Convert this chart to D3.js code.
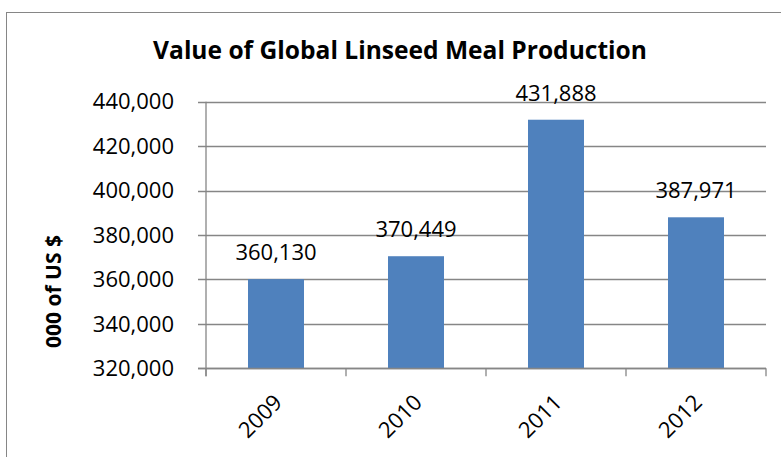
<!DOCTYPE html>
<html><head><meta charset="utf-8">
<script src="https://cdn.jsdelivr.net/npm/d3@7"></script>
<style>body{margin:0;background:#fff}svg{display:block}text{font-family:"Open Sans",sans-serif;fill:#000}</style>
</head><body>
<script>
const categories = ["2009","2010","2011","2012"];
const values = [360130, 370449, 431888, 387971];
const yTicks = [320000,340000,360000,380000,400000,420000,440000];
const title = "Value of Global Linseed Meal Production";
const yTitle = "000 of US $";

const W=781,H=457;
const svg=d3.select("body").append("svg").attr("width",W).attr("height",H);
// outer chart border
svg.append("rect").attr("x",6.5).attr("y",12.5).attr("width",W+10).attr("height",H+10)
  .attr("fill","none").attr("stroke","#868686").attr("stroke-width",1);

const L=206,R=766,T=101.7,B=368.3;
const x=d3.scaleBand().domain(categories).range([L,R]).paddingInner(0.6).paddingOuter(0.3);
const y=d3.scaleLinear().domain([320000,440000]).range([B,T]);
const grey="#868686";

// gridlines
svg.append("g").selectAll("line").data(yTicks).join("line")
  .attr("x1",L-8).attr("x2",R).attr("y1",d=>Math.round(y(d))+0.5).attr("y2",d=>Math.round(y(d))+0.5)
  .attr("stroke",grey).attr("stroke-width",1.3);

// bars
svg.append("g").selectAll("rect").data(values).join("rect")
  .attr("x",(d,i)=>x(categories[i])).attr("width",x.bandwidth())
  .attr("y",d=>y(d)).attr("height",d=>B-y(d)).attr("fill","#4F81BD");

// axes lines
svg.append("line").attr("x1",L).attr("x2",L).attr("y1",T).attr("y2",B+8).attr("stroke",grey).attr("stroke-width",1.3);
svg.append("line").attr("x1",L-8).attr("x2",R).attr("y1",Math.round(B)+0.5).attr("y2",Math.round(B)+0.5).attr("stroke",grey).attr("stroke-width",1.3);
const step=x.step();
const xt=d3.range(categories.length+1).map(i=>L+i*step);
svg.append("g").selectAll("line").data(xt).join("line")
  .attr("x1",d=>d).attr("x2",d=>d).attr("y1",B).attr("y2",B+8).attr("stroke",grey).attr("stroke-width",1.3);

const fmt=d3.format(",");
// y tick labels
svg.append("g").selectAll("text").data(yTicks).join("text")
  .attr("x",174).attr("y",d=>y(d)).attr("dy","0.35em").attr("text-anchor","end")
  .style("font-size","22px").text(d=>fmt(d));

// data labels
svg.append("g").selectAll("text").data(values).join("text")
  .attr("x",(d,i)=>x(categories[i])+x.bandwidth()/2).attr("y",d=>y(d)-19)
  .attr("text-anchor","middle").style("font-size","22px").text(d=>fmt(d));

// x labels
svg.append("g").selectAll("text").data(categories).join("text")
  .attr("transform",d=>`translate(${x(d)+x.bandwidth()/2+2},${B+30}) rotate(-45)`)
  .attr("text-anchor","end").attr("dy","0.35em").style("font-size","22px").text(d=>d);

// title
const t=svg.append("text").attr("x",400).attr("y",59.3).attr("text-anchor","middle")
  .style("font-weight","bold").style("font-size","24px").text(title);
const tw=t.node().getComputedTextLength();
t.style("font-size",(24*494/tw)+"px");

// y title
svg.append("text").attr("transform","translate(61,291.5) rotate(-90)").attr("text-anchor","middle")
  .style("font-weight","bold").style("font-size","21px").text(yTitle);
</script>
</body></html>
